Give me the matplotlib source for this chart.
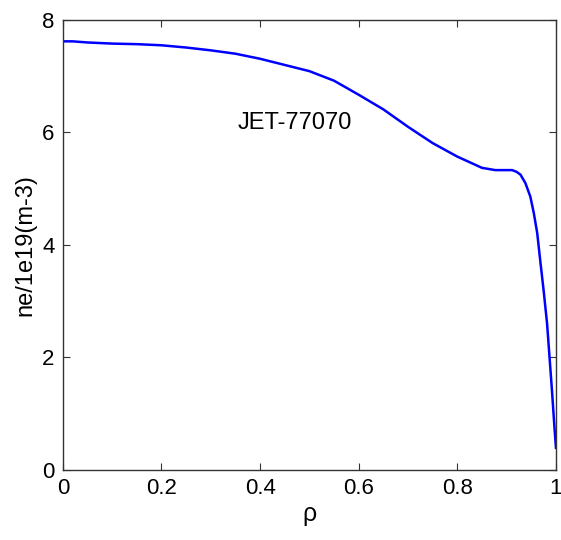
import matplotlib
matplotlib.use('Agg')
import matplotlib.pyplot as plt

plt.rcParams.update({
    'font.family': ['Liberation Sans', 'DejaVu Sans'],
    'font.size': 16,
})

# density profile
rho = [0.0, 0.02, 0.05, 0.1, 0.15, 0.2, 0.25, 0.3, 0.35, 0.4, 0.45, 0.5,
       0.55, 0.6, 0.65, 0.7, 0.75, 0.8, 0.85, 0.877, 0.911, 0.92, 0.928,
       0.938, 0.948, 0.955, 0.962, 0.968, 0.975, 0.982, 0.987, 0.992,
       0.997, 1.0]
ne = [7.62, 7.62, 7.60, 7.58, 7.57, 7.55, 7.51, 7.46, 7.40, 7.31, 7.20, 7.09,
      6.92, 6.67, 6.41, 6.10, 5.81, 5.57, 5.37, 5.33, 5.33, 5.30, 5.25,
      5.10, 4.86, 4.57, 4.21, 3.73, 3.19, 2.60, 2.00, 1.40,
      0.75, 0.39]

fig = plt.figure(figsize=(5.61, 5.40), dpi=100)
ax = fig.add_axes([0.112, 0.130, 0.879, 0.833])

ax.plot(rho, ne, color='#0000ff', lw=1.8)
ax.text(0.47, 6.17, 'JET-77070', ha='center', va='center', fontsize=17)

ax.set_xlim(0, 1)
ax.set_ylim(0, 8)
ax.set_xticks([0, 0.2, 0.4, 0.6, 0.8, 1])
ax.set_xticklabels(['0', '0.2', '0.4', '0.6', '0.8', '1'])
ax.set_yticks([0, 2, 4, 6, 8])
ax.tick_params(direction='in', length=5, width=0.8, color='#333333',
               labelsize=16, top=True, right=True, pad=6)
for s in ax.spines.values():
    s.set_color('#333333')
    s.set_linewidth(1.0)

ax.set_xlabel('ρ', fontsize=18, labelpad=2)
ax.set_ylabel('ne/1e19(m-3)', fontsize=17, labelpad=4)

fig.savefig('out.png', dpi=100, facecolor='white')
